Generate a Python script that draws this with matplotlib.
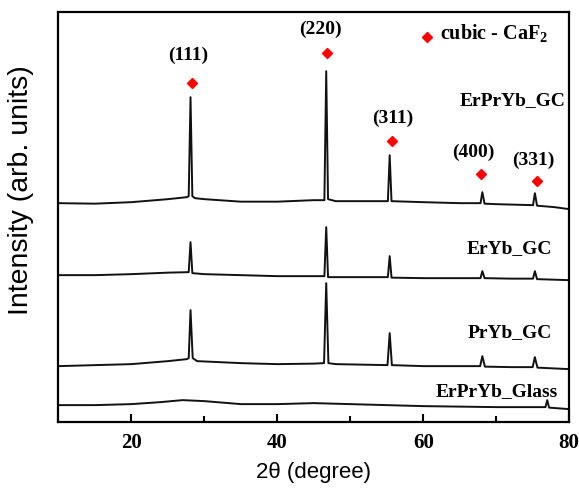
import matplotlib
matplotlib.use("Agg")
import matplotlib.pyplot as plt
from matplotlib.ticker import MultipleLocator

plt.rcParams['mathtext.fontset'] = 'custom'
plt.rcParams['mathtext.rm'] = 'Liberation Serif:bold'
plt.rcParams['mathtext.bf'] = 'Liberation Serif:bold'

# === DATA (arb. units) ===
two_theta_gc1 = [10, 15, 20, 25, 27.6, 27.85, 28.1, 28.35, 28.7, 30, 35, 40, 45, 46.45,
                 46.7, 46.95, 48, 55.15, 55.4, 55.65, 60, 65, 67.85, 68.1, 68.4, 70,
                 75.05, 75.3, 75.6, 78, 80]
erpryb_gc = [219, 218.5, 220, 223, 225, 226, 325, 226, 224, 223, 220.5, 220.5, 222, 222,
             351, 223, 221, 221, 267, 221, 220, 219, 219, 230, 218.5, 218, 217, 229,
             216.5, 215, 213]

two_theta_gc2 = [10, 15, 20, 25, 27.85, 28.1, 28.35, 30, 35, 40, 46.45, 46.7, 46.95, 50,
                 55.15, 55.4, 55.65, 60, 67.85, 68.1, 68.4, 72, 75.05, 75.3, 75.6, 80]
eryb_gc = [147, 147, 148, 149.5, 150, 180, 149, 148, 147, 146, 146, 195, 145, 145,
           145, 166, 144.5, 144, 144, 151, 144, 143.5, 143.5, 151, 143, 142]

two_theta_gc3 = [10, 15, 20, 25, 27.6, 27.85, 28.1, 28.4, 29, 35, 40, 45, 46.4, 46.7,
                 47.0, 48, 55.1, 55.4, 55.7, 60, 67.8, 68.1, 68.45, 72, 75.0, 75.3,
                 75.65, 80]
pryb_gc = [56, 57, 58, 61, 63, 64, 112, 64, 61, 59, 58, 58.5, 59, 139, 59, 58, 57,
           89, 57, 56, 56, 66, 55.5, 55, 55, 65, 54.5, 53]

two_theta_glass = [10, 15, 20, 24, 27, 30, 35, 40, 45, 50, 55, 60, 65, 70, 76.75, 77.0,
                   77.25, 80]
erpryb_glass = [17, 17, 18, 20, 22, 21, 18, 18, 19, 18, 17, 16, 15.5, 15, 15, 22, 14.5, 13]

series = [
    (two_theta_gc1, erpryb_gc),
    (two_theta_gc2, eryb_gc),
    (two_theta_gc3, pryb_gc),
    (two_theta_glass, erpryb_glass),
]

# hkl labels and cubic CaF2 markers
hkl_labels = ["(111)", "(220)", "(311)", "(400)", "(331)"]
marker_x = [28.26, 46.78, 55.73, 67.93, 75.57]
marker_y = [338.7, 369.3, 281.3, 248, 241]
label_pos = [(27.72, 367), (45.95, 393), (55.82, 304), (66.8, 270), (75.06, 262)]

sample_names = ["ErPrYb_GC", "ErYb_GC", "PrYb_GC", "ErPrYb_Glass"]
sample_pos = [(79.45, 322), (77.67, 174), (77.67, 90), (78.49, 31)]

# === PLOT ===
fig = plt.figure(figsize=(5.79, 4.88), dpi=100)
ax = fig.add_axes([0.101, 0.135, 0.882, 0.840])

for x, y in series:
    ax.plot(x, y, color='#111111', linewidth=1.4)

ax.plot(marker_x, marker_y, linestyle='none', marker='D', markersize=5.5,
        color='#ff0000')
for txt, (px, py) in zip(hkl_labels, label_pos):
    ax.text(px, py, txt, ha='center', va='center', fontsize=14,
            fontweight='bold', family='Liberation Serif')

# legend entry
ax.plot([60.49], [385.3], linestyle='none', marker='D', markersize=5.5, color='#ff0000')
ax.text(62.3, 388, "cubic - CaF$_2$", ha='left', va='center', fontsize=14.5,
        fontweight='bold', family='Liberation Serif')

for name, (px, py) in zip(sample_names, sample_pos):
    ax.text(px, py, name, ha='right', va='center', fontsize=14,
            fontweight='bold', family='Liberation Serif')

ax.set_xlim(10, 80)
ax.set_ylim(0, 410)
ax.xaxis.set_major_locator(MultipleLocator(20))
ax.xaxis.set_minor_locator(MultipleLocator(10))
ax.set_yticks([])
ax.tick_params(axis='x', which='major', direction='in', length=6, width=1.5,
               pad=8, labelsize=15)
ax.tick_params(axis='x', which='minor', direction='in', length=4, width=1.5)
for lab in ax.get_xticklabels():
    lab.set_fontfamily('Liberation Serif')
    lab.set_fontweight('bold')
for sp in ax.spines.values():
    sp.set_linewidth(1.6)

ax.set_xlabel("2θ (degree)", fontsize=16, family='Liberation Sans', labelpad=6)
ax.set_ylabel("Intensity (arb. units)", fontsize=20.5, family='Liberation Sans')
ax.yaxis.set_label_coords(-0.047, 0.566)

fig.savefig("out.png", dpi=100)
